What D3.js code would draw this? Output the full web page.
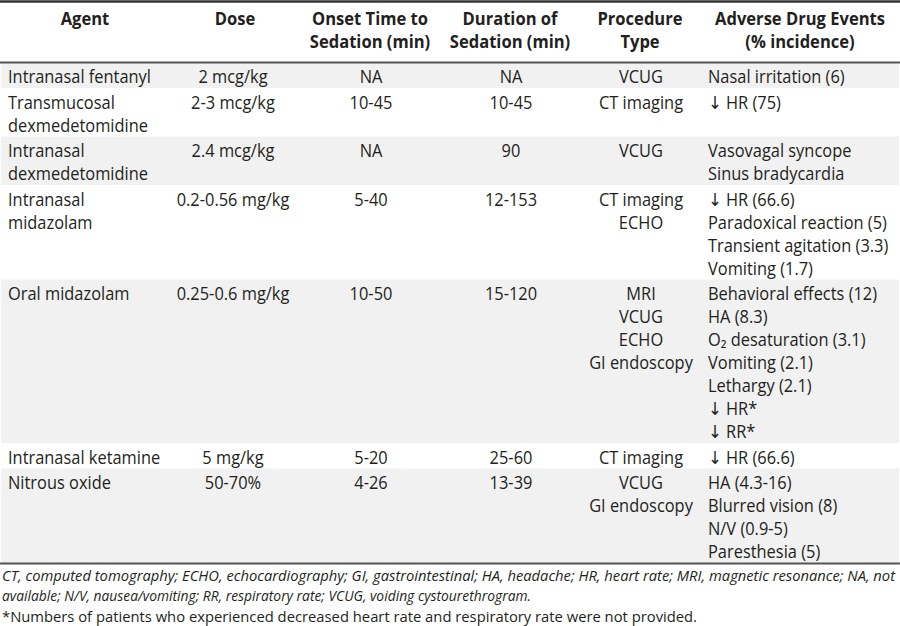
<!DOCTYPE html>
<html>
<head>
<meta charset="utf-8">
<script src="https://cdn.jsdelivr.net/npm/d3@7"></script>
<style>
  html, body { margin: 0; padding: 0; background: #fff; }
  svg { display: block; }
</style>
</head>
<body>
<svg id="chart" width="900" height="626"></svg>
<script>
// ---------- DATA ----------
const headers = [
  ["Agent"],
  ["Dose"],
  ["Onset Time to", "Sedation (min)"],
  ["Duration of", "Sedation (min)"],
  ["Procedure", "Type"],
  ["Adverse Drug Events", "(% incidence)"]
];
const agents = [
  ["Intranasal fentanyl"],
  ["Transmucosal", "dexmedetomidine"],
  ["Intranasal", "dexmedetomidine"],
  ["Intranasal", "midazolam"],
  ["Oral midazolam"],
  ["Intranasal ketamine"],
  ["Nitrous oxide"]
];
const doses = ["2 mcg/kg", "2-3 mcg/kg", "2.4 mcg/kg", "0.2-0.56 mg/kg", "0.25-0.6 mg/kg", "5 mg/kg", "50-70%"];
const onsetTimes = ["NA", "10-45", "NA", "5-40", "10-50", "5-20", "4-26"];
const durations = ["NA", "10-45", "90", "12-153", "15-120", "25-60", "13-39"];
const procedures = [
  ["VCUG"],
  ["CT imaging"],
  ["VCUG"],
  ["CT imaging", "ECHO"],
  ["MRI", "VCUG", "ECHO", "GI endoscopy"],
  ["CT imaging"],
  ["VCUG", "GI endoscopy"]
];
const adverseEvents = [
  ["Nasal irritation (6)"],
  ["\u2193 HR (75)"],
  ["Vasovagal syncope", "Sinus bradycardia"],
  ["\u2193 HR (66.6)", "Paradoxical reaction (5)", "Transient agitation (3.3)", "Vomiting (1.7)"],
  ["Behavioral effects (12)", "HA (8.3)", "O\u2082 desaturation (3.1)", "Vomiting (2.1)", "Lethargy (2.1)", "\u2193 HR*", "\u2193 RR*"],
  ["\u2193 HR (66.6)"],
  ["HA (4.3-16)", "Blurred vision (8)", "N/V (0.9-5)", "Paresthesia (5)"]
];
const footnotes = [
  "CT, computed tomography; ECHO, echocardiography; GI, gastrointestinal; HA, headache; HR, heart rate; MRI, magnetic resonance; NA, not",
  "available; N/V, nausea/vomiting; RR, respiratory rate; VCUG, voiding cystourethrogram.",
  "*Numbers of patients who experienced decreased heart rate and respiratory rate were not provided."
];

// ---------- LAYOUT / STYLE ----------
const W = 900;
const FONT = "'Open Sans', 'Noto Sans', sans-serif";
const ARROW_FONT = "'DejaVu Sans', sans-serif";
const FS = 18;
const textColor = "#231f20";
const lineH = 23;
const rowPad = 2.5;
const headerRuleY = 62.5;
const firstBaseline = 20.5;

const colKeys = ["agent", "dose", "onset", "duration", "procedure", "adverse"];
const colAnchor = { agent: "start", dose: "middle", onset: "middle", duration: "middle", procedure: "middle", adverse: "start" };
const colX = d3.scaleOrdinal().domain(colKeys).range([8, 233, 371, 511, 641, 708]);
const headX = d3.scaleOrdinal().domain(colKeys).range([85, 235, 370, 510, 640, 800]);

const svg = d3.select("#chart");

// calibrate horizontal compression to match the reference typeface width
function measure(str, weight, size) {
  const t = svg.append("text").attr("font-family", FONT).attr("font-size", size)
    .attr("font-weight", weight).text(str);
  const w = t.node().getComputedTextLength();
  t.remove();
  return w;
}
const sxBody = 143 / measure("Intranasal fentanyl", 400, FS);
const sxHead = 170 / measure("Adverse Drug Events", 700, FS);

function addText(g, x, y, str, anchor, weight, sx) {
  const t = g.append("text")
    .attr("transform", `translate(${x},${y}) scale(${sx},1)`)
    .attr("text-anchor", anchor)
    .attr("font-family", FONT)
    .attr("font-size", FS)
    .attr("font-weight", weight)
    .attr("fill", textColor);
  if (str.startsWith("\u2193")) {
    t.append("tspan").attr("font-family", ARROW_FONT).attr("font-size", FS * 1.0)
      .text("\u2193");
    t.append("tspan").text(str.slice(1));
  } else {
    t.text(str);
  }
  return t;
}

// rows
const rows = agents.map((a, i) => {
  const cells = {
    agent: a,
    dose: [doses[i]],
    onset: [onsetTimes[i]],
    duration: [durations[i]],
    procedure: procedures[i],
    adverse: adverseEvents[i]
  };
  const n = d3.max(colKeys, k => cells[k].length);
  return { cells, n };
});
let acc = headerRuleY;
rows.forEach(r => { r.top = acc; r.h = r.n * lineH + rowPad; acc += r.h; });
const tableBottom = acc;

// stripes
svg.append("g").selectAll("rect")
  .data(rows.filter((r, i) => i % 2 === 0))
  .join("rect")
  .attr("x", 1).attr("width", W - 2)
  .attr("y", d => d.top).attr("height", d => d.h)
  .attr("fill", "#f1f1f1");

// rules
const rules = svg.append("g");
rules.append("line").attr("x1", 0).attr("x2", W).attr("y1", 1.5).attr("y2", 1.5)
  .attr("stroke", "#333").attr("stroke-width", 2.5);
rules.append("line").attr("x1", 0).attr("x2", W).attr("y1", headerRuleY).attr("y2", headerRuleY)
  .attr("stroke", "#555").attr("stroke-width", 1.8);
rules.append("line").attr("x1", 0).attr("x2", W).attr("y1", tableBottom + 0.5).attr("y2", tableBottom + 0.5)
  .attr("stroke", "#555").attr("stroke-width", 2);

// header
const hg = svg.append("g");
headers.forEach((lines, ci) => {
  lines.forEach((s, li) => {
    addText(hg, headX(colKeys[ci]), 25 + li * lineH, s, "middle", 700, sxHead);
  });
});

// body
const bg = svg.append("g");
rows.forEach(r => {
  colKeys.forEach(k => {
    r.cells[k].forEach((s, li) => {
      addText(bg, colX(k), r.top + firstBaseline + li * lineH, s, colAnchor[k], 400, sxBody);
    });
  });
});

// footnotes
const fg = svg.append("g");
const fnBase = [580.5, 601, 621.5];
const fnWidth = [895, 531, 697];
const fnItalic = [true, true, false];
footnotes.forEach((s, i) => {
  fg.append("text")
    .attr("x", 2).attr("y", fnBase[i])
    .attr("font-family", FONT)
    .attr("font-size", 14.5)
    .attr("font-style", fnItalic[i] ? "italic" : "normal")
    .attr("fill", textColor)
    .attr("textLength", fnWidth[i] - 2)
    .attr("lengthAdjust", "spacingAndGlyphs")
    .text(s);
});
</script>
</body>
</html>
